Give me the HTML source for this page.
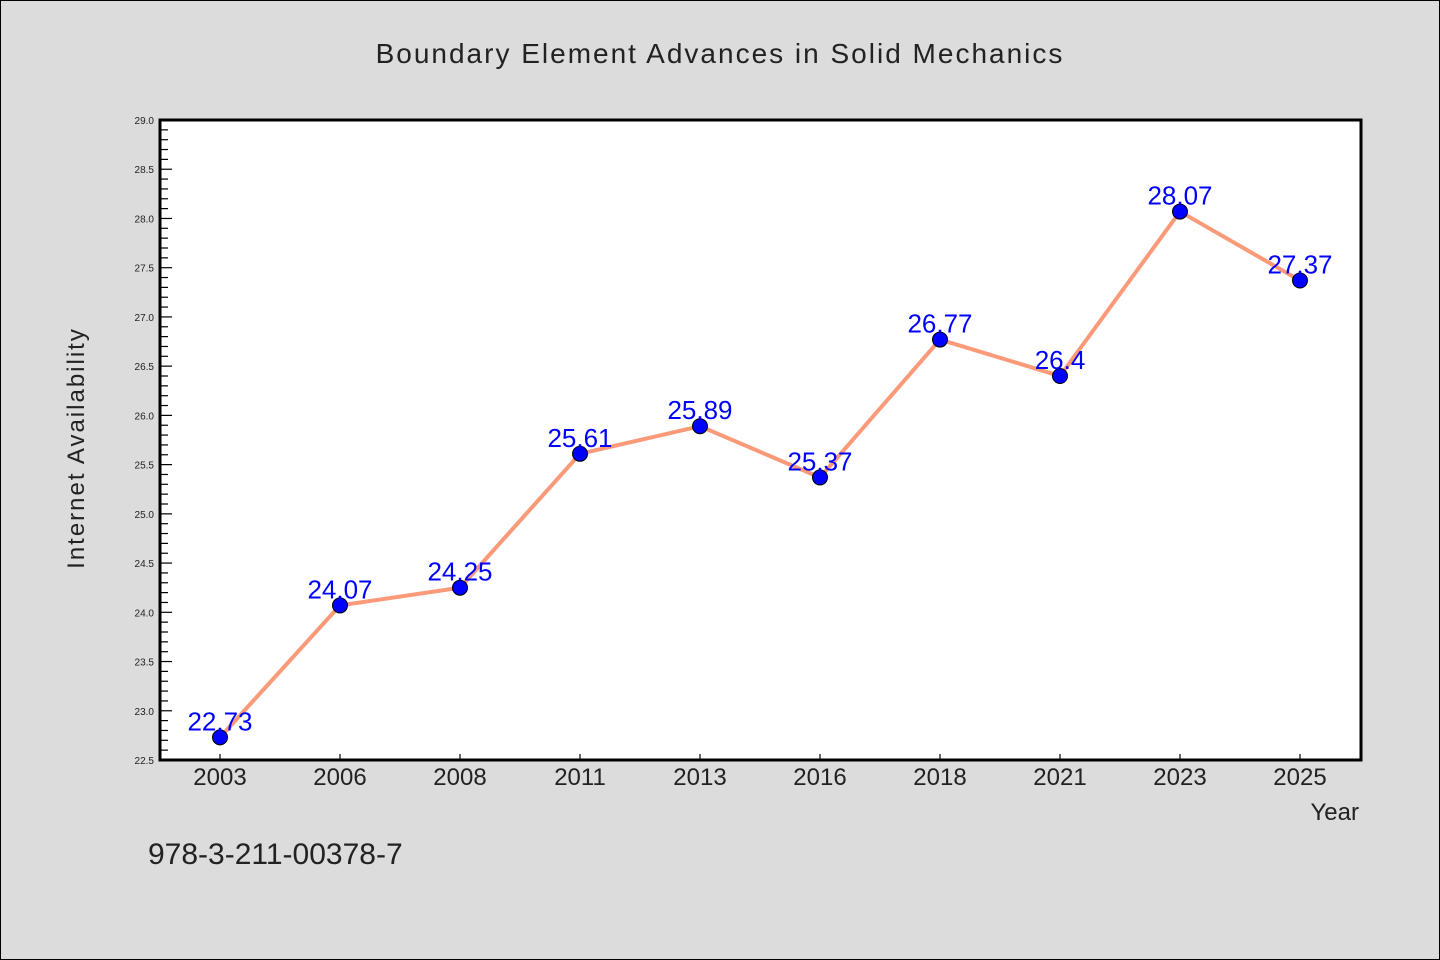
<!DOCTYPE html>
<html><head><meta charset="utf-8"><style>
body{margin:0;background:#dcdcdc}
svg{display:block}
text{font-family:"WenQuanYi Zen Hei","Liberation Sans",sans-serif}
</style></head><body>
<svg width="1440" height="960">
<rect x="0.5" y="0.5" width="1439" height="959" fill="#dcdcdc" stroke="#000"/>
<text x="720" y="63" text-anchor="middle" font-size="28" fill="#222" letter-spacing="2">Boundary Element Advances in Solid Mechanics</text>
<rect x="160" y="120" width="1201" height="640" fill="#fff"/>
<g id="yaxis"></g>
<g id="xaxis"></g>
<g id="series"></g>
<rect x="160" y="120" width="1201" height="640" fill="none" stroke="#000" stroke-width="3"/>
<text transform="translate(84,448) rotate(-90)" text-anchor="middle" font-size="24" fill="#222" letter-spacing="2">Internet Availability</text>
<text x="1359" y="820" text-anchor="end" font-size="24" fill="#222">Year</text>
<text x="148" y="864" font-size="30" fill="#222">978-3-211-00378-7</text>
</svg>
<script>
const categories=["2003","2006","2008","2011","2013","2016","2018","2021","2023","2025"];
const values=[22.73,24.07,24.25,25.61,25.89,25.37,26.77,26.4,28.07,27.37];
const yMin=22.5,yMax=29.0;
const ns="http://www.w3.org/2000/svg";
const L=160,R=1361,T=120,B=760;
function x(i){return 220+i*(1300-220)/(categories.length-1);}
function y(v){return B-(v-yMin)/(yMax-yMin)*(B-T);}
function mk(tag,attrs,parent,txt){const e=document.createElementNS(ns,tag);for(const k in attrs)e.setAttribute(k,attrs[k]);if(txt!==undefined)e.textContent=txt;parent.appendChild(e);return e;}
const ya=document.getElementById('yaxis'),xa=document.getElementById('xaxis'),se=document.getElementById('series');
for(let k=0;k<=Math.round((yMax-yMin)*10);k++){
  const v=yMin+k*0.1,major=k%5===0,yy=y(v);
  const t=mk('line',{x1:L,x2:L+(major?12:8),y1:yy,y2:yy,stroke:'#000','stroke-width':1.2},ya);
  
  
  if(major){const lb=mk('text',{x:L-6,y:yy+4,'text-anchor':'end','font-size':10,fill:'#222'},ya,v.toFixed(1));
    
    }
}
categories.forEach((c,i)=>{
  const t=mk('line',{x1:x(i),x2:x(i),y1:B,y2:B-6,stroke:'#000','stroke-width':1.2},xa);
  
  
  const lb=mk('text',{x:x(i),y:B+25,'text-anchor':'middle','font-size':24,fill:'#222'},xa,c);
  
  
});
const pl=mk('polyline',{points:values.map((v,i)=>x(i)+','+y(v)).join(' '),fill:'none',stroke:'#fa9a78','stroke-width':4},se);


values.forEach((v,i)=>{
  const p=mk('circle',{cx:x(i),cy:y(v),r:7.5,fill:'#0000ff',stroke:'#000','stroke-width':1},se);
  
  
  const lb=mk('text',{x:x(i),y:y(v)-7,'text-anchor':'middle','font-size':26,fill:'#0000ff'},se,String(v));
  
  
});
</script>
</body></html>
